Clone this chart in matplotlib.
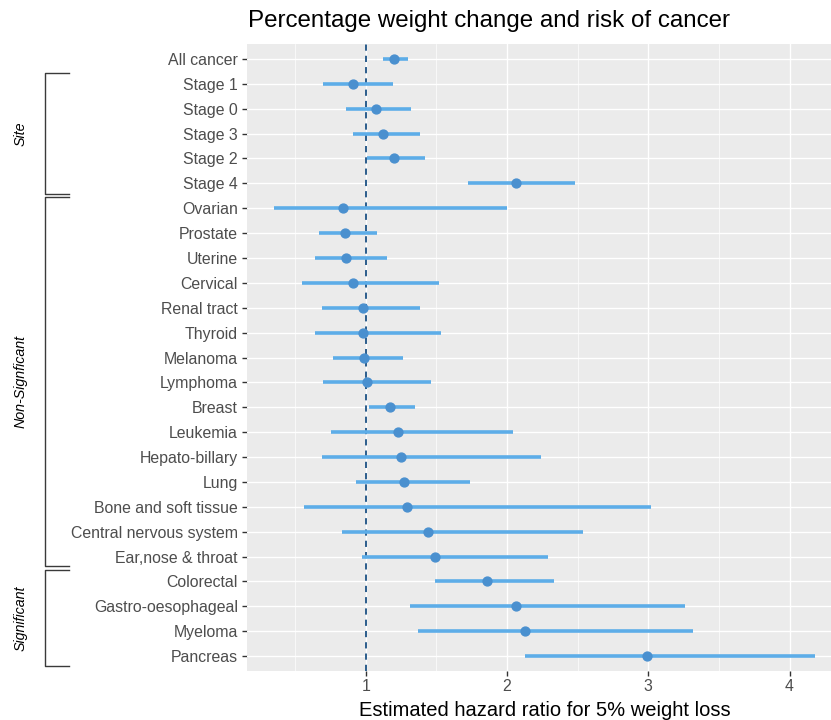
import matplotlib
matplotlib.use("Agg")
import matplotlib.pyplot as plt
import matplotlib.transforms as mtransforms
from matplotlib.lines import Line2D

plt.rcParams["font.family"] = ["Liberation Sans", "DejaVu Sans"]

# Cancer categories, listed top to bottom
categories = [
    "All cancer", "Stage 1", "Stage 0", "Stage 3", "Stage 2", "Stage 4",
    "Ovarian", "Prostate", "Uterine", "Cervical", "Renal tract", "Thyroid",
    "Melanoma", "Lymphoma", "Breast", "Leukemia", "Hepato-billary", "Lung",
    "Bone and soft tissue", "Central nervous system", "Ear,nose & throat",
    "Colorectal", "Gastro-oesophageal", "Myeloma", "Pancreas",
]
# Hazard ratio estimates and 95% confidence limits
hr = [1.20, 0.91, 1.07, 1.12, 1.20, 2.06,
      0.84, 0.85, 0.86, 0.91, 0.98, 0.98,
      0.99, 1.01, 1.17, 1.23, 1.25, 1.27,
      1.29, 1.44, 1.49,
      1.86, 2.06, 2.13, 2.99]
lower = [1.12, 0.70, 0.86, 0.91, 1.01, 1.72,
         0.35, 0.67, 0.64, 0.55, 0.69, 0.64,
         0.77, 0.70, 1.02, 0.75, 0.69, 0.93,
         0.56, 0.83, 0.97,
         1.49, 1.31, 1.37, 2.13]
upper = [1.30, 1.19, 1.32, 1.38, 1.42, 2.48,
         2.00, 1.08, 1.15, 1.52, 1.38, 1.53,
         1.26, 1.46, 1.35, 2.04, 2.24, 1.74,
         3.02, 2.54, 2.29,
         2.33, 3.26, 3.32, 4.18]

# Groups shown as brackets on the left: (label, first category, last category)
groups = [
    ("Site", "Stage 1", "Stage 4"),
    ("Non-Signficant", "Ovarian", "Ear,nose & throat"),
    ("Significant", "Colorectal", "Pancreas"),
]

reference_hr = 1.0
xticks = [1, 2, 3, 4]
minor_xticks = [0.5, 1.5, 2.5, 3.5]

W, H, DPI = 831, 720, 100
fig = plt.figure(figsize=(W / DPI, H / DPI), dpi=DPI)

# Panel placement in pixels (the panel runs slightly past the right edge)
left_px, right_px, top_px, bottom_px = 247, 842, 44, 671
ax = fig.add_axes([left_px / W, 1 - bottom_px / H,
                   (right_px - left_px) / W, (bottom_px - top_px) / H])

ax.set_facecolor("#EBEBEB")
for s in ax.spines.values():
    s.set_visible(False)

ypos = list(range(len(categories)))

# Horizontal guide lines for each category
for y in ypos:
    ax.axhline(y, color="white", lw=1.0, zorder=1)

# x limits with 5% expansion around the confidence range
lo, hi = min(lower), max(upper)
pad = 0.05 * (hi - lo)
ax.set_xlim(lo - pad, hi + pad)
ax.set_ylim(len(categories) - 0.4, -0.6)

ax.set_xticks(xticks)
ax.set_xticks(minor_xticks, minor=True)
ax.grid(which="major", axis="x", color="white", lw=1.0, zorder=1)
ax.grid(which="minor", axis="x", color="white", lw=0.5, zorder=1)
ax.set_axisbelow(True)

ax.axvline(reference_hr, color="#2B5D8C", lw=1.4, ls=(0, (3.2, 2.6)), zorder=2)

ax.hlines(ypos, lower, upper, color="#5DADE8", lw=2.6, zorder=3)
ax.plot(hr, ypos, "o", color="#4A90CF", ms=6.4, zorder=4, mec="#4A90CF")

ax.set_yticks(ypos)
ax.set_yticklabels(categories)
ax.tick_params(axis="both", which="major", labelsize=11.4, colors="#333333",
               labelcolor="#4D4D4D", length=3.5, width=1.0, pad=3)
ax.tick_params(axis="x", which="minor", length=0)
ax.tick_params(axis="x", pad=2.5)

ax.set_xlabel("Estimated hazard ratio for 5% weight loss", fontsize=14.5,
              color="black", labelpad=5)

fig.text(248 / W, 1 - 21 / H, "Percentage weight change and risk of cancer",
         fontsize=17.4, ha="left", va="center", color="black")

# Group brackets: x in figure fraction, y in category units
trans = mtransforms.blended_transform_factory(fig.transFigure, ax.transData)
bx0, bx1, tx = 45 / W, 69 / W, 21 / W
bracket_pad = [(0.44, 0.42), (0.44, 0.37), (0.45, 0.40)]
for (label, first, last), (ptop, pbot) in zip(groups, bracket_pad):
    y0 = categories.index(first) - ptop
    y1 = categories.index(last) + pbot
    line = Line2D([bx1, bx0, bx0, bx1], [y0, y0, y1, y1], transform=trans,
                  color="#3A3A3A", lw=1.0, clip_on=False)
    fig.add_artist(line)
    fig.text(tx, (y0 + y1) / 2, label, transform=trans, rotation=90,
             ha="center", va="center", style="italic", fontsize=10.3,
             color="black")

fig.savefig("out.png", dpi=DPI)
